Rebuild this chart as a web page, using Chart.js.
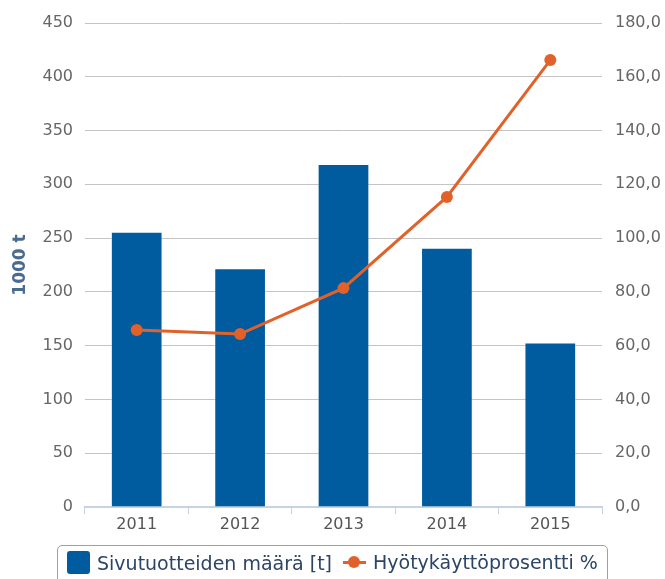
<!DOCTYPE html>
<html>
<head>
<meta charset="utf-8">
<script src="https://cdn.jsdelivr.net/npm/chart.js@4"></script>
<style>
  body { margin: 0; background: #fff; }
  #wrap { position: relative; width: 665px; height: 579px; overflow: hidden; }
  #legend {
    position: absolute; left: 57px; top: 545px; width: 551px; height: 44px;
    border: 1px solid #a0a0a0; border-radius: 5px; box-sizing: border-box;
    font-family: "DejaVu Sans", Verdana, sans-serif; font-size: 19px; color: #2c4566;
    display: flex; align-items: flex-start; padding-top: 5px; padding-left: 9px;
  }
  .item { display: flex; align-items: center; margin-right: 11px; white-space: nowrap; }
  .box { width: 23px; height: 23px; background: #005b9f; border-radius: 3px; margin-right: 7px; }
  .line { position: relative; width: 23px; height: 22px; margin-right: 7px; }
  .line:before { content: ''; position: absolute; left: 0; right: 0; top: 10px; height: 3px; background: #e0622a; }
  .line:after { content: ''; position: absolute; left: 5px; top: 5px; width: 12px; height: 12px; border-radius: 50%; background: #e0622a; }
</style>
</head>
<body>
<div id="wrap">
  <canvas id="chart" width="665" height="579"></canvas>
  <div id="legend">
    <div class="item"><span class="box"></span>Sivutuotteiden määrä [t]</div>
    <div class="item"><span class="line"></span>Hyötykäyttöprosentti %</div>
  </div>
</div>
<script>
'use strict';

// Chart data
const years = ['2011', '2012', '2013', '2014', '2015'];
const amounts = [256, 222, 319, 241, 153];
const recoveryPercent = [65.8, 64.3, 81.4, 115.3, 166.2];

const tickFont = { family: 'DejaVu Sans', size: 16 };

const ctx = document.getElementById('chart').getContext('2d');
new Chart(ctx, {
    type: 'bar',
    data: {
        labels: years,
        datasets: [
            {
                label: 'Sivutuotteiden määrä [t]',
                data: amounts,
                backgroundColor: '#005b9f',
                borderColor: 'rgba(255,255,255,0.35)',
                borderWidth: 1,
                barPercentage: 0.5,
                categoryPercentage: 1,
                yAxisID: 'y',
                order: 1
            },
            {
                type: 'line',
                label: 'Hyötykäyttöprosentti %',
                data: recoveryPercent,
                borderColor: '#e0622a',
                backgroundColor: '#e0622a',
                borderWidth: 3,
                pointRadius: 6,
                pointBorderWidth: 0,
                yAxisID: 'y1',
                order: 0
            }
        ]
    },
    options: {
        responsive: false,
        animation: false,
        layout: { padding: { top: 23, bottom: 34, left: 0, right: 0 } },
        plugins: {
            legend: { display: false },
            tooltip: { enabled: false }
        },
        scales: {
            x: {
                grid: { drawOnChartArea: false, drawTicks: true, tickLength: 7, color: '#c5d3e3' },
                border: { color: '#c5d3e3', width: 2 },
                ticks: { color: '#555', font: tickFont, padding: 1 },
                afterFit: scale => { scale.height = 38; }
            },
            y: {
                position: 'left',
                min: 0,
                max: 450,
                ticks: { stepSize: 50, color: '#666', font: tickFont, padding: 12 },
                grid: { color: '#c4c4c4', drawTicks: false },
                border: { display: false },
                title: {
                    display: true,
                    text: '1000 t',
                    color: '#4a6a90',
                    font: { family: 'DejaVu Sans', size: 17, weight: 'bold' },
                    padding: { top: 10, bottom: 0 }
                },
                afterFit: scale => { scale.width = 85; }
            },
            y1: {
                position: 'right',
                min: 0,
                max: 180,
                ticks: {
                    stepSize: 20,
                    color: '#666',
                    font: tickFont,
                    padding: 13,
                    callback: v => v.toFixed(1).replace('.', ',')
                },
                grid: { drawOnChartArea: false, drawTicks: false },
                border: { display: false },
                afterFit: scale => { scale.width = 63; }
            }
        }
    }
});
</script>
</body>
</html>
